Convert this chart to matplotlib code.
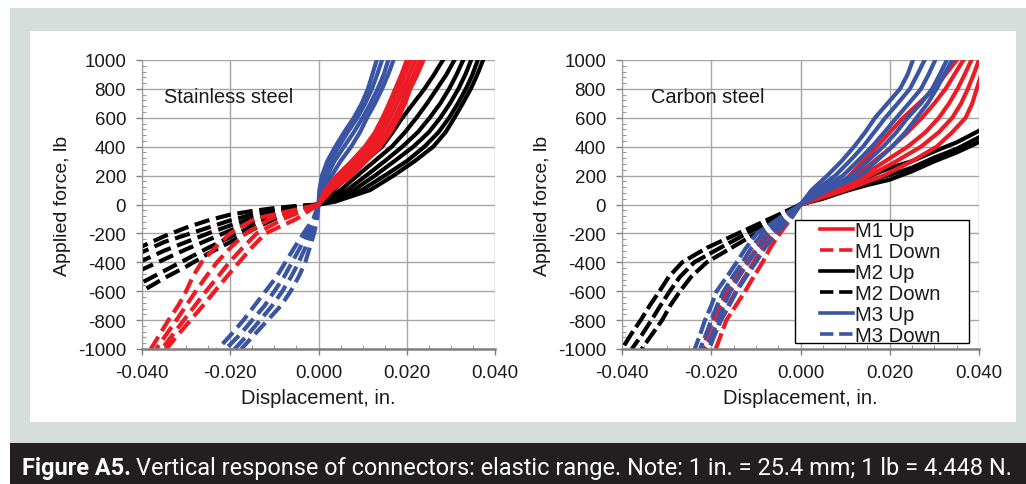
import matplotlib
matplotlib.use("Agg")
import matplotlib.pyplot as plt
from matplotlib.patches import Rectangle
from matplotlib.lines import Line2D
from matplotlib.ticker import MultipleLocator, FormatStrFormatter

plt.rcParams['font.family'] = ['Liberation Sans', 'DejaVu Sans']
plt.rcParams['axes.unicode_minus'] = False

W, H = 1026, 485

# ---------------- data ----------------
F_UP = [0, 100, 200, 300, 400, 500, 600, 700, 800, 900, 1000]
F_DOWN = [0, -100, -200, -300, -400, -500, -600, -700, -800, -900, -1000]

# Stainless steel
SS_M1_UP = [
    [0, 0.0015, 0.0042, 0.0075, 0.0105, 0.0128, 0.0145, 0.0160, 0.0174, 0.0188, 0.0200],
    [0, 0.0020, 0.0050, 0.0082, 0.0112, 0.0135, 0.0153, 0.0168, 0.0183, 0.0196, 0.0209],
    [0, 0.0025, 0.0058, 0.0090, 0.0120, 0.0144, 0.0162, 0.0178, 0.0192, 0.0206, 0.0219],
    [0, 0.0028, 0.0066, 0.0099, 0.0130, 0.0154, 0.0172, 0.0188, 0.0201, 0.0216, 0.0229],
    [0, 0.0030, 0.0075, 0.0108, 0.0140, 0.0163, 0.0181, 0.0196, 0.0208, 0.0224, 0.0238],
]
SS_M1_DOWN = [
    [0, -0.0050, -0.0120, -0.0152, -0.0180, -0.0208, -0.0235, -0.0262, -0.0290, -0.0318, -0.0345],
    [0, -0.0080, -0.0140, -0.0172, -0.0202, -0.0228, -0.0255, -0.0280, -0.0305, -0.0330, -0.0355],
    [0, -0.0110, -0.0165, -0.0200, -0.0230, -0.0255, -0.0278, -0.0300, -0.0322, -0.0345, -0.0368],
    [0, -0.0145, -0.0200, -0.0235, -0.0265, -0.0285, -0.0300, -0.0318, -0.0340, -0.0360, -0.0380],
]
SS_M2_UP_F = [0, 20, 100, 200, 300, 400, 500, 600, 700, 800, 900, 1000]
SS_M2_UP = [
    [0, 0.0010, 0.0035, 0.0068, 0.0105, 0.0144, 0.0168, 0.0190, 0.0215, 0.0240, 0.0262, 0.0282],
    [0, 0.0015, 0.0050, 0.0088, 0.0127, 0.0166, 0.0196, 0.0222, 0.0246, 0.0268, 0.0290, 0.0308],
    [0, 0.0020, 0.0065, 0.0108, 0.0150, 0.0190, 0.0225, 0.0252, 0.0276, 0.0296, 0.0313, 0.0328],
    [0, 0.0025, 0.0080, 0.0128, 0.0172, 0.0215, 0.0250, 0.0276, 0.0298, 0.0317, 0.0333, 0.0346],
    [0, 0.0032, 0.0098, 0.0150, 0.0200, 0.0240, 0.0272, 0.0296, 0.0316, 0.0334, 0.0349, 0.0361],
    [0, 0.0038, 0.0117, 0.0170, 0.0218, 0.0260, 0.0288, 0.0308, 0.0327, 0.0345, 0.0360, 0.0373],
]
SS_M2_DOWN_X = [0, -0.005, -0.010, -0.015, -0.020, -0.025, -0.030, -0.035, -0.040]
SS_M2_DOWN = [
    [0, -10, -25, -45, -70, -110, -160, -220, -290],
    [0, -15, -40, -70, -110, -160, -210, -260, -330],
    [0, -20, -55, -95, -145, -200, -260, -320, -390],
    [0, -25, -70, -120, -180, -245, -310, -380, -450],
    [0, -30, -85, -150, -225, -300, -380, -460, -540],
    [0, -35, -100, -175, -260, -340, -430, -510, -600],
]
SS_M3_UP = [
    [0, 0.0002, 0.0008, 0.0020, 0.0038, 0.0058, 0.0080, 0.0098, 0.0112, 0.0122, 0.0132],
    [0, 0.0004, 0.0013, 0.0027, 0.0046, 0.0066, 0.0088, 0.0106, 0.0121, 0.0133, 0.0144],
    [0, 0.0006, 0.0020, 0.0036, 0.0058, 0.0080, 0.0100, 0.0118, 0.0134, 0.0148, 0.0158],
    [0, 0.0008, 0.0030, 0.0050, 0.0074, 0.0094, 0.0110, 0.0128, 0.0144, 0.0158, 0.0170],
]
SS_M3_DOWN = [
    [0, -0.0003, -0.0010, -0.0020, -0.0030, -0.0045, -0.0063, -0.0085, -0.0115, -0.0145, -0.0175],
    [0, -0.0006, -0.0018, -0.0030, -0.0045, -0.0062, -0.0082, -0.0105, -0.0132, -0.0160, -0.0190],
    [0, -0.0009, -0.0026, -0.0042, -0.0060, -0.0078, -0.0100, -0.0122, -0.0150, -0.0178, -0.0210],
    [0, -0.0012, -0.0034, -0.0055, -0.0075, -0.0095, -0.0120, -0.0145, -0.0170, -0.0198, -0.0228],
]

# Carbon steel
CS_M1_UP = [
    [0, 0.0080, 0.0110, 0.0140, 0.0171, 0.0200, 0.0230, 0.0265, 0.0300, 0.0325, 0.0350],
    [0, 0.0085, 0.0125, 0.0165, 0.0205, 0.0240, 0.0272, 0.0300, 0.0325, 0.0345, 0.0365],
    [0, 0.0090, 0.0140, 0.0190, 0.0240, 0.0280, 0.0310, 0.0333, 0.0352, 0.0368, 0.0383],
    [0, 0.0095, 0.0155, 0.0215, 0.0270, 0.0310, 0.0340, 0.0360, 0.0375, 0.0388, 0.0400],
    [0, 0.0100, 0.0186, 0.0250, 0.0305, 0.0340, 0.0370, 0.0385, 0.0395, 0.0405, 0.0415],
]
CS_M1_DOWN = [
    [0, -0.0035, -0.0075, -0.0098, -0.0120, -0.0142, -0.0163, -0.0180, -0.0195, -0.0208, -0.0220],
    [0, -0.0028, -0.0060, -0.0085, -0.0105, -0.0125, -0.0145, -0.0162, -0.0180, -0.0193, -0.0205],
    [0, -0.0022, -0.0046, -0.0068, -0.0085, -0.0105, -0.0124, -0.0145, -0.0166, -0.0178, -0.0190],
]
CS_M2_UP_X = [0, 0.005, 0.010, 0.015, 0.020, 0.025, 0.030, 0.035, 0.040, 0.045]
CS_M2_UP = [
    [0, 40, 92, 135, 172, 230, 299, 360, 432, 510],
    [0, 50, 110, 160, 205, 255, 325, 385, 465, 545],
    [0, 60, 138, 190, 253, 300, 368, 430, 510, 590],
]
CS_M2_DOWN = [
    [0, -0.0070, -0.0140, -0.0210, -0.0265, -0.0295, -0.0316, -0.0338, -0.0358, -0.0380, -0.0400],
    [0, -0.0060, -0.0120, -0.0180, -0.0238, -0.0270, -0.0293, -0.0314, -0.0334, -0.0355, -0.0378],
    [0, -0.0050, -0.0100, -0.0155, -0.0210, -0.0245, -0.0270, -0.0292, -0.0310, -0.0333, -0.0356],
]
CS_M3_UP = [
    [0, 0.0025, 0.0060, 0.0092, 0.0120, 0.0145, 0.0167, 0.0195, 0.0223, 0.0240, 0.0252],
    [0, 0.0035, 0.0078, 0.0110, 0.0140, 0.0165, 0.0190, 0.0218, 0.0245, 0.0262, 0.0278],
    [0, 0.0045, 0.0095, 0.0128, 0.0160, 0.0188, 0.0215, 0.0243, 0.0270, 0.0287, 0.0302],
    [0, 0.0055, 0.0115, 0.0150, 0.0185, 0.0215, 0.0240, 0.0270, 0.0295, 0.0312, 0.0328],
    [0, 0.0062, 0.0134, 0.0170, 0.0205, 0.0235, 0.0260, 0.0285, 0.0305, 0.0322, 0.0340],
]
CS_M3_DOWN = [
    [0, -0.0050, -0.0098, -0.0122, -0.0143, -0.0165, -0.0188, -0.0200, -0.0214, -0.0225, -0.0237],
    [0, -0.0040, -0.0085, -0.0110, -0.0130, -0.0152, -0.0172, -0.0187, -0.0200, -0.0212, -0.0225],
    [0, -0.0030, -0.0070, -0.0095, -0.0117, -0.0138, -0.0157, -0.0172, -0.0185, -0.0198, -0.0212],
    [0, -0.0022, -0.0055, -0.0080, -0.0100, -0.0122, -0.0143, -0.0160, -0.0178, -0.0192, -0.0205],
]

LEGEND_LABELS = ["M1 Up", "M1 Down", "M2 Up", "M2 Down", "M3 Up", "M3 Down"]
RED, BLACK, BLUE = "#ed1c24", "#000000", "#3a55a4"
TXT = "#1a1a1a"
CAPTION_BOLD = "Figure A5."
CAPTION = "Vertical response of connectors: elastic range. Note: 1 in. = 25.4 mm; 1 lb = 4.448 N."

LW = 3.0
DENSE = (0, (4, 1.2))


def px(x):
    return x / W


def py(y):
    return 1 - y / H


def by_force(ax, xs_list, forces, color, ls):
    for xs in xs_list:
        ax.plot(xs, forces, color=color, ls=ls, lw=LW)


def by_disp(ax, xs, fs_list, color, ls):
    for fs in fs_list:
        ax.plot(xs, fs, color=color, ls=ls, lw=LW)


fig = plt.figure(figsize=(W / 100, H / 100), dpi=100)
fig.patch.set_facecolor("white")

# background boxes
fig.add_artist(Rectangle((px(10), py(444)), px(1016), 435 / H, transform=fig.transFigure,
                         facecolor="#d6dedc", edgecolor="none", zorder=-3))
fig.add_artist(Rectangle((px(30), py(423)), px(986), 391 / H, transform=fig.transFigure,
                         facecolor="white", edgecolor="none", zorder=-2))
fig.add_artist(Rectangle((px(10), 0), px(1016), 41 / H, transform=fig.transFigure,
                         facecolor="#231f20", edgecolor="none", zorder=-2))

ax1 = fig.add_axes([px(142), py(350), px(353), 289 / H])
ax2 = fig.add_axes([px(622), py(350), px(357), 289 / H])

for ax in (ax1, ax2):
    ax.set_facecolor("none")
    ax.set_xlim(-0.04, 0.04)
    ax.set_ylim(-1000, 1000)
    ax.xaxis.set_major_locator(MultipleLocator(0.02))
    ax.xaxis.set_minor_locator(MultipleLocator(0.005))
    ax.yaxis.set_major_locator(MultipleLocator(200))
    ax.yaxis.set_minor_locator(MultipleLocator(40))
    ax.xaxis.set_major_formatter(FormatStrFormatter("%.3f"))
    ax.grid(True, which="major", color="#a6a6a6", lw=1.0, zorder=0)
    ax.set_axisbelow(True)
    for s in ("top", "right"):
        ax.spines[s].set_visible(False)
    ax.spines["left"].set_color("#999999")
    ax.spines["bottom"].set_color("#808080")
    ax.spines["bottom"].set_linewidth(1.8)
    ax.tick_params(which="major", direction="out", length=4.5, width=1, color="#808080",
                   labelsize=13.5, labelcolor=TXT)
    ax.tick_params(axis="y", which="major", pad=7)
    ax.tick_params(axis="x", which="major", pad=6)
    ax.tick_params(which="minor", direction="in", length=3, width=0.8, color="#999999")
    ax.set_xlabel("Displacement, in.", fontsize=14.5, color=TXT, labelpad=5)
    ax.set_ylabel("Applied force, lb", fontsize=14, color=TXT, labelpad=5)

# Stainless steel
by_disp(ax1, SS_M2_DOWN_X, SS_M2_DOWN, BLACK, "--")
by_force(ax1, SS_M2_UP, SS_M2_UP_F, BLACK, "-")
by_force(ax1, SS_M3_UP, F_UP, BLUE, "-")
by_force(ax1, SS_M3_DOWN, F_DOWN, BLUE, "--")
by_force(ax1, SS_M1_UP, F_UP, RED, "-")
by_force(ax1, SS_M1_DOWN, F_DOWN, RED, "--")
ax1.text(-0.035, 744, "Stainless steel", fontsize=14.4, color=TXT, va="center")

# Carbon steel
by_disp(ax2, CS_M2_UP_X, CS_M2_UP, BLACK, "-")
by_force(ax2, CS_M2_DOWN, F_DOWN, BLACK, DENSE)
by_force(ax2, CS_M1_UP, F_UP, RED, "-")
by_force(ax2, CS_M1_DOWN, F_DOWN, RED, DENSE)
by_force(ax2, CS_M3_UP, F_UP, BLUE, "-")
by_force(ax2, CS_M3_DOWN, F_DOWN, BLUE, DENSE)
ax2.text(-0.0335, 744, "Carbon steel", fontsize=14.4, color=TXT, va="center")

# legend
ax2.add_patch(Rectangle((0.485, 0.021), 0.487, 0.425, transform=ax2.transAxes,
                        facecolor="white", edgecolor="black", lw=1.0, zorder=4))
handles = []
for col, ls in zip([RED, RED, BLACK, BLACK, BLUE, BLUE], ["-", "--", "-", "--", "-", "--"]):
    handles.append(Line2D([], [], color=col, ls=ls, lw=2.6))
leg = ax2.legend(handles, LEGEND_LABELS, loc="upper left", bbox_to_anchor=(0.555, 0.443),
                 frameon=False, fontsize=14.6, handlelength=1.6, handletextpad=0.12,
                 labelspacing=0.1, borderpad=0, borderaxespad=0)
leg.set_zorder(5)
for t in leg.get_texts():
    t.set_color(TXT)

# caption, sized to span the bar like the original
r = fig.canvas.get_renderer()
size = 14.5
for _ in range(3):
    cap_kw = dict(color="white", fontsize=size, family=["Roboto", "DejaVu Sans"], va="baseline")
    t1 = fig.text(px(22), py(475), CAPTION_BOLD, weight="bold", **cap_kw)
    w1 = t1.get_window_extent(r).width
    t2 = fig.text(px(22 + w1 + 5), py(475), CAPTION, **cap_kw)
    right = t2.get_window_extent(r).x1
    if abs(right - 1013) < 2:
        break
    size *= (1013 - 22) / (right - 22)
    t1.remove()
    t2.remove()

fig.savefig("out.png", dpi=100)
